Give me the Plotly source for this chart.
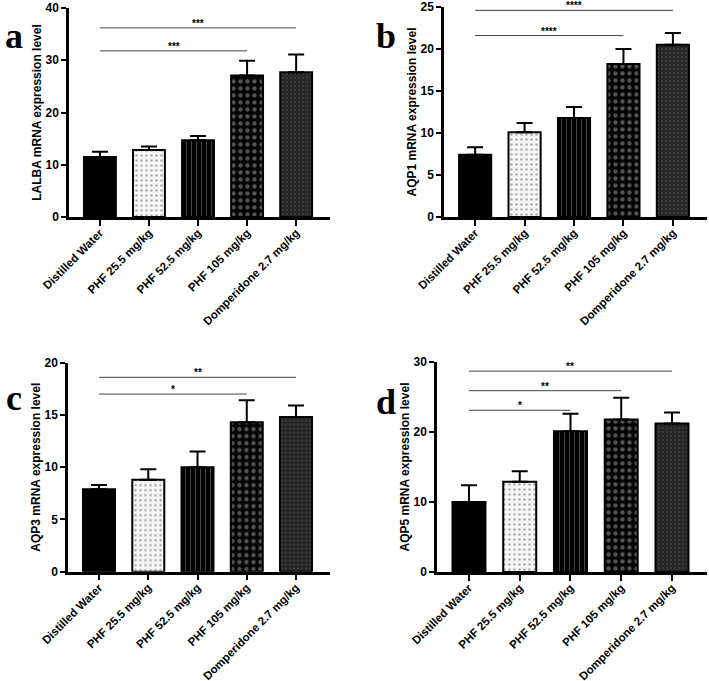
import plotly.graph_objects as go

categories = ["Distilled Water", "PHF 25.5 mg/kg", "PHF 52.5 mg/kg", "PHF 105 mg/kg", "Domperidone 2.7 mg/kg"]

lalba_mean = [11.5, 12.8, 14.7, 27.1, 27.7]
lalba_err = [1.0, 0.7, 0.8, 2.8, 3.4]
aqp1_mean = [7.4, 10.1, 11.8, 18.2, 20.5]
aqp1_err = [0.9, 1.1, 1.3, 1.8, 1.4]
aqp3_mean = [7.9, 8.8, 10.0, 14.3, 14.8]
aqp3_err = [0.4, 1.0, 1.5, 2.1, 1.1]
aqp5_mean = [10.0, 12.9, 20.1, 21.8, 21.2]
aqp5_err = [2.4, 1.5, 2.5, 3.1, 1.6]

y_titles = ["LALBA mRNA expression level", "AQP1 mRNA expression level",
            "AQP3 mRNA expression level", "AQP5 mRNA expression level"]
y_max = [40, 25, 20, 30]
y_dtick = [10, 5, 5, 10]
panel_letters = ["a", "b", "c", "d"]

# significance brackets: (from index, to index, y value, label)
sig_a = [(0, 4, 36.2, "***"), (0, 3, 31.8, "***")]
sig_b = [(0, 4, 24.6, "****"), (0, 3, 21.6, "****")]
sig_c = [(0, 4, 18.6, "**"), (0, 3, 17.0, "*")]
sig_d = [(0, 4, 28.7, "**"), (0, 3, 25.9, "**"), (0, 2, 23.1, "*")]

means = [lalba_mean, aqp1_mean, aqp3_mean, aqp5_mean]
errs = [lalba_err, aqp1_err, aqp3_err, aqp5_err]
sigs = [sig_a, sig_b, sig_c, sig_d]

W, H = 709, 681
# pixel boxes: (x0, x1, ytop, ybottom)
boxes = [(69, 330, 8, 217), (444, 707, 7, 217), (68, 330, 362.7, 571.7), (437, 707, 362, 572)]
letter_pos = [(14, 36), (386, 36), (14, 398), (386, 402)]

FONT = "Arial, Liberation Sans, sans-serif"

bar_styles = [
    dict(color="#000000", pattern=dict(shape="")),
    dict(color="#ffffff", pattern=dict(shape=".", fgcolor="#666666", bgcolor="#f6f6f6", size=5, solidity=0.2)),
    dict(color="#000000", pattern=dict(shape="|", fgcolor="#8a8a8a", bgcolor="#000000", size=5, solidity=0.2)),
    dict(color="#000000", pattern=dict(shape=".", fgcolor="#a0a0a0", bgcolor="#050505", size=7, solidity=0.3)),
    dict(color="#2a2a2a", pattern=dict(shape=".", fgcolor="#5a5a5a", bgcolor="#262626", size=4, solidity=0.2)),
]

fig = go.Figure()
layout = {}
shapes = []
annotations = []

for p in range(4):
    ax = "" if p == 0 else str(p + 1)
    xa, ya = "x" + ax, "y" + ax
    x0, x1, yt, yb = boxes[p]
    for i, cat in enumerate(categories):
        st = bar_styles[i]
        fig.add_trace(go.Bar(
            x=[i], y=[means[p][i]], width=0.65,
            marker=dict(color=st["color"], pattern=st["pattern"],
                        line=dict(color="#000000", width=2)),
            error_y=dict(type="data", symmetric=False, array=[errs[p][i]], arrayminus=[0],
                         color="#000000", thickness=2, width=8),
            xaxis=xa, yaxis=ya, showlegend=False,
        ))
    layout["xaxis" + ax] = dict(
        domain=[x0 / W, x1 / W], anchor=ya, range=[-0.63, 4.69], automargin=False,
        tickmode="array", tickvals=list(range(5)), ticktext=categories,
        tickangle=-45, ticks="outside", ticklen=6, tickwidth=2, tickcolor="#000",
        ticklabelstandoff=-4,
        showline=True, linecolor="#000", linewidth=2.5, showgrid=False, zeroline=False,
        tickfont=dict(family=FONT, size=11.5, color="#000", weight="bold"),
    )
    layout["yaxis" + ax] = dict(
        domain=[1 - yb / H, 1 - yt / H], anchor=xa, range=[0, y_max[p]], automargin=False,
        dtick=y_dtick[p], ticks="outside", ticklen=5, tickwidth=2, tickcolor="#000",
        showline=True, linecolor="#000", linewidth=2.5, showgrid=False, zeroline=False,
        tickfont=dict(family=FONT, size=12, color="#000", weight="bold"),
        title=dict(text=y_titles[p], font=dict(family=FONT, size=12, color="#000", weight="bold"), standoff=2),
    )
    for (a, b, yv, lab) in sigs[p]:
        shapes.append(dict(type="line", xref=xa, yref=ya, x0=a, x1=b, y0=yv, y1=yv,
                           line=dict(color="#444444", width=1)))
        annotations.append(dict(xref=xa, yref=ya, x=(a + b) / 2, y=yv, text=lab, showarrow=False,
                                yanchor="bottom", yshift=-3,
                                font=dict(family=FONT, size=10, color="#000", weight="bold")))
    lx, ly = letter_pos[p]
    annotations.append(dict(xref="paper", yref="paper", x=lx / W, y=1 - ly / H, text=panel_letters[p],
                            showarrow=False, xanchor="center", yanchor="middle",
                            font=dict(family="Liberation Serif, Times New Roman, serif", size=36,
                                      color="#000", weight="bold")))

fig.update_layout(**layout)
fig.update_layout(
    width=W, height=H, margin=dict(l=0, r=0, t=0, b=0),
    paper_bgcolor="#ffffff", plot_bgcolor="#ffffff",
    shapes=shapes, annotations=annotations, bargap=0.3,
)
fig.write_html("out.html", config={"displayModeBar": False},
               post_script="document.body.style.margin='0px';document.body.style.padding='0px';")
